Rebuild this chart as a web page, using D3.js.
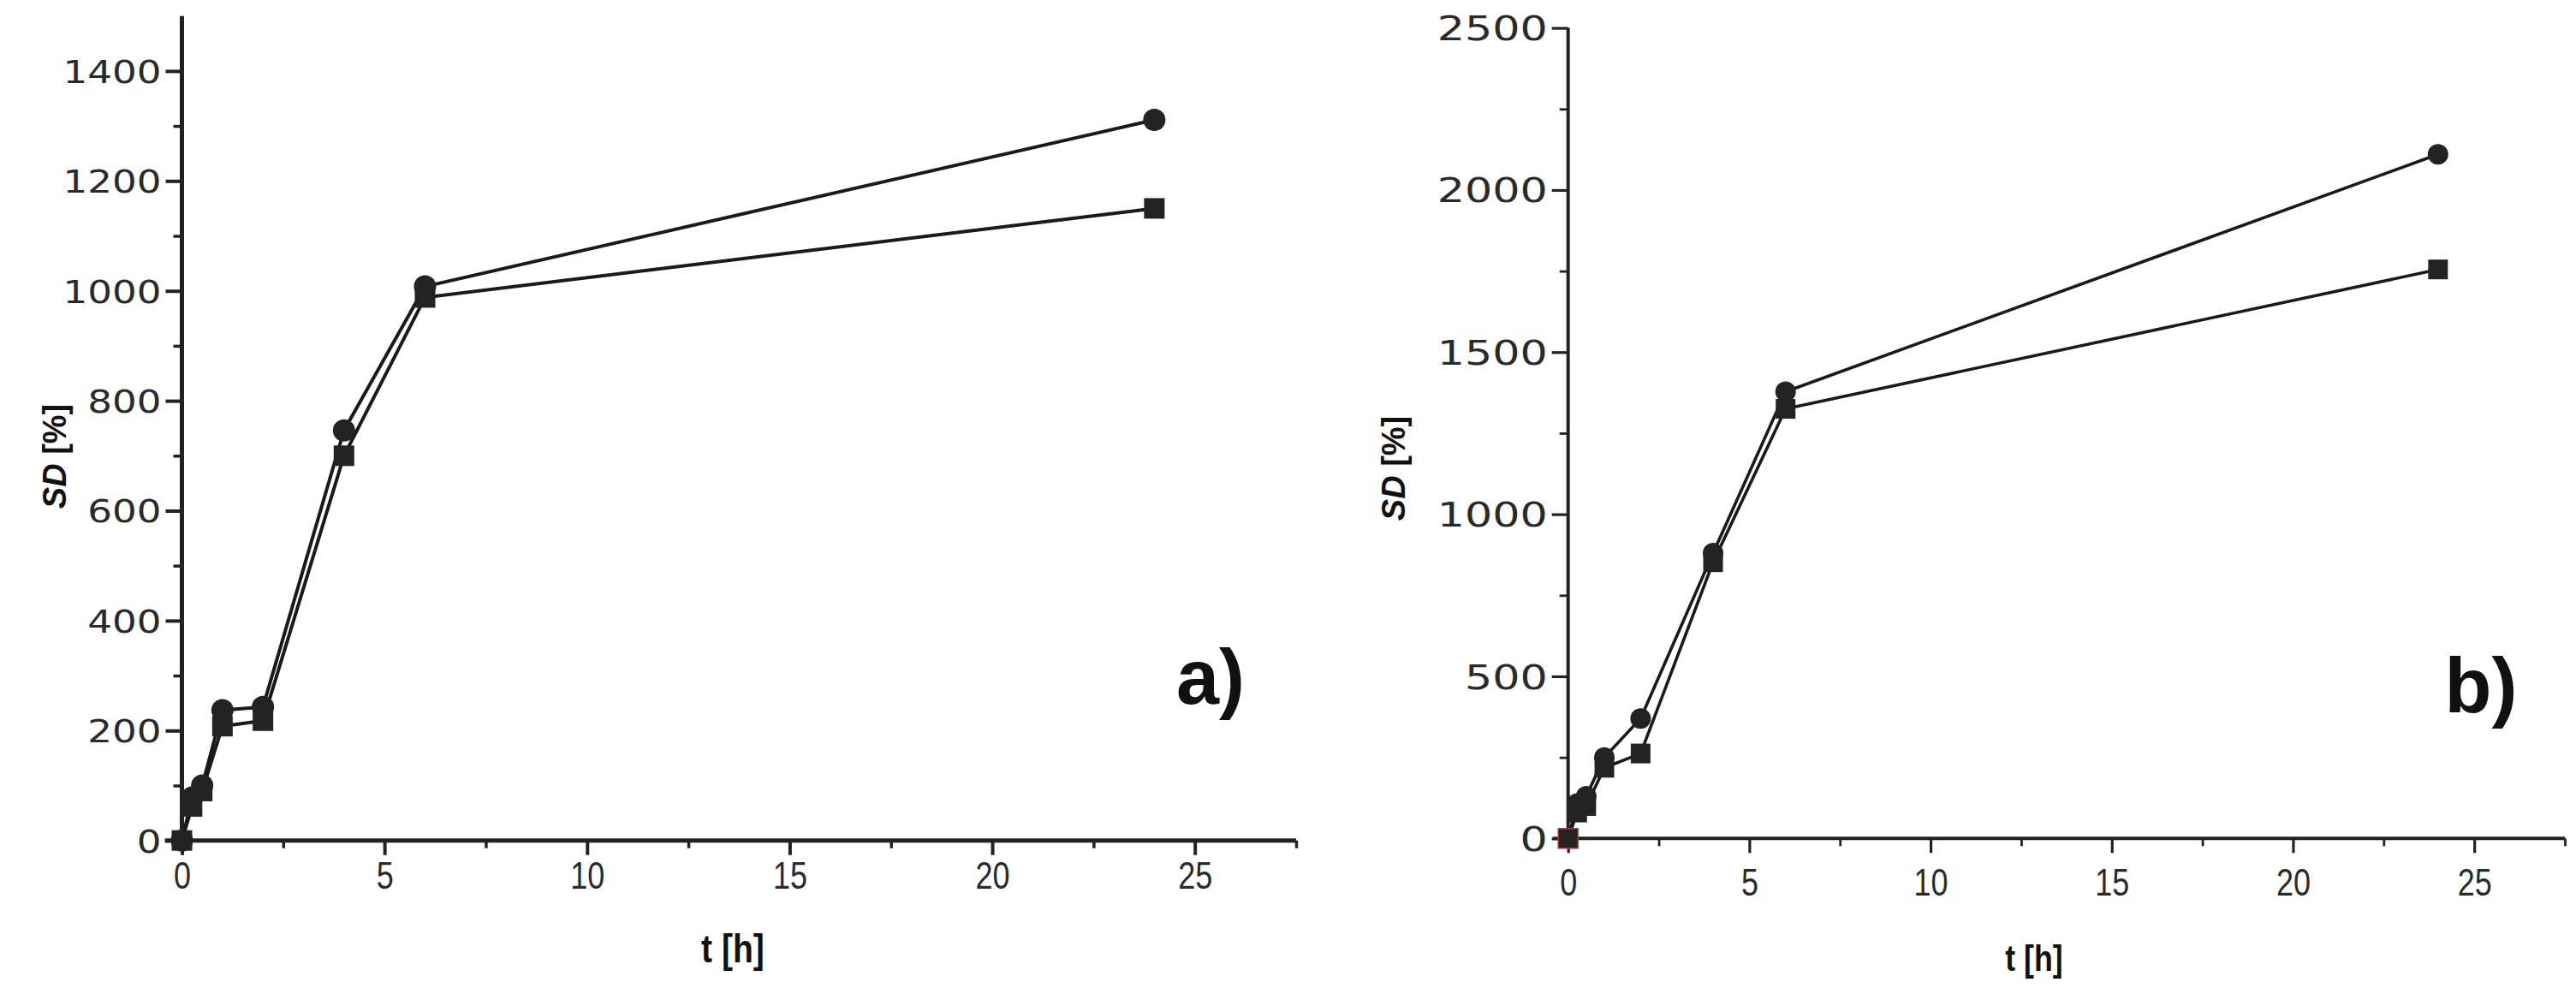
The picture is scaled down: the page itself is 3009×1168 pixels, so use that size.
<!DOCTYPE html>
<html>
<head>
<meta charset="utf-8">
<script src="https://cdn.jsdelivr.net/npm/d3@7"></script>
<style>
  html, body { margin: 0; padding: 0; background: #fff; }
  svg { display: block; }
</style>
</head>
<body>
<script>
// sampling times (h)
const times = [0, 0.25, 0.5, 1, 2, 4, 6, 24];

// panel a) swelling degree SD [%]
const circleA = [0, 78, 100, 237, 243, 746, 1008, 1311];
const squareA = [0, 62, 90, 208, 218, 700, 988, 1150];

// panel b)
const circleB = [0, 108, 130, 250, 370, 880, 1378, 2110];
const squareB = [0, 80, 100, 218, 262, 852, 1325, 1755];

const xMajor = [0, 5, 10, 15, 20, 25];
const xMinor = [2.5, 7.5, 12.5, 17.5, 22.5, 27.5];
const yMajorA = [0, 200, 400, 600, 800, 1000, 1200, 1400];
const yMinorA = [100, 300, 500, 700, 900, 1100, 1300];
const yMajorB = [0, 500, 1000, 1500, 2000, 2500];
const yMinorB = [250, 750, 1250, 1750, 2250];

const W = 3009, H = 1168;
const ink = "#222";

const svg = d3.select("body").append("svg")
  .attr("width", W).attr("height", H)
  .attr("viewBox", [0, 0, W, H]);

const panels = [
  {
    circle: circleA, square: squareA,
    x: d3.scaleLinear().domain([0, 27.5]).range([212.5, 1514]),
    y: d3.scaleLinear().domain([0, 1500]).range([981.7, 18.7]),
    yMajor: yMajorA, yMinor: yMinorA, yTop: 1500,
    axisW: 5, lineW: 4, r: 13, sq: 24, ySize: 37, yScale: 1.22,
    label: "a)", labelX: 1414, labelY: 822,
    yTitleX: 64, yTitleY: 533, xTitleX: 856, xTitleY: 1124,
    xLabelY: 1038, xTitleSize: 46
  },
  {
    circle: circleB, square: squareB,
    x: d3.scaleLinear().domain([0, 27.5]).range([1831.7, 2996]),
    y: d3.scaleLinear().domain([0, 2500]).range([979.3, 32.6]),
    yMajor: yMajorB, yMinor: yMinorB, yTop: 2500,
    axisW: 4, lineW: 3.6, r: 12, sq: 23, ySize: 39, yScale: 1.3,
    label: "b)", labelX: 2898, labelY: 832,
    yTitleX: 1628, yTitleY: 547, xTitleX: 2376, xTitleY: 1134,
    xLabelY: 1046, xTitleSize: 42
  }
];

panels.forEach((p, pi) => {
  const g = svg.append("g");
  const x0 = p.x(0), y0 = p.y(0);

  // y axis: major ticks + labels
  const gy = g.append("g").attr("transform", `translate(${x0},0)`)
    .call(d3.axisLeft(p.y).tickValues(p.yMajor).tickSize(19).tickPadding(0).tickFormat(d3.format("d")));
  gy.select(".domain").remove();
  gy.selectAll(".tick line").attr("stroke", ink).attr("stroke-width", p.axisW * 0.8);
  gy.selectAll(".tick text")
    .attr("x", 0).attr("dy", "0.36em")
    .attr("transform", `translate(-24,0) scale(${p.yScale},1)`)
    .attr("fill", "#2a2a2a")
    .style("font-family", "DejaVu Sans, sans-serif")
    .style("font-size", `${p.ySize}px`);

  const gyMinor = g.append("g").attr("transform", `translate(${x0},0)`)
    .call(d3.axisLeft(p.y).tickValues(p.yMinor).tickSize(10).tickFormat(""));
  gyMinor.select(".domain").remove();
  gyMinor.selectAll(".tick line").attr("stroke", ink).attr("stroke-width", p.axisW * 0.7);

  // x axis: major ticks + labels
  const gx = g.append("g").attr("transform", `translate(0,${y0})`)
    .call(d3.axisBottom(p.x).tickValues(xMajor).tickSize(17).tickPadding(0).tickFormat(d3.format("d")));
  gx.select(".domain").remove();
  gx.selectAll(".tick line").attr("stroke", ink).attr("stroke-width", p.axisW * 0.8);
  gx.selectAll(".tick text")
    .attr("y", 0).attr("dy", 0)
    .attr("transform", `translate(0,${p.xLabelY - y0}) scale(0.8,1)`)
    .attr("fill", "#2a2a2a")
    .style("font-family", "Liberation Sans, Arial, sans-serif")
    .style("font-size", "45px");

  const gxMinor = g.append("g").attr("transform", `translate(0,${y0})`)
    .call(d3.axisBottom(p.x).tickValues(xMinor).tickSize(9).tickFormat(""));
  gxMinor.select(".domain").remove();
  gxMinor.selectAll(".tick line").attr("stroke", ink).attr("stroke-width", p.axisW * 0.7);

  // axis lines
  g.append("line")
    .attr("x1", p.x(-0.42)).attr("x2", p.x(27.5))
    .attr("y1", y0).attr("y2", y0)
    .attr("stroke", ink).attr("stroke-width", p.axisW);
  g.append("line")
    .attr("x1", x0).attr("x2", x0)
    .attr("y1", p.y(p.yTop)).attr("y2", y0 + 2)
    .attr("stroke", ink).attr("stroke-width", p.axisW);

  // series
  const line = d3.line().x((d, i) => p.x(times[i])).y(d => p.y(d));
  [p.circle, p.square].forEach(vals => {
    g.append("path")
      .attr("d", line(vals))
      .attr("fill", "none")
      .attr("stroke", "#1a1a1a")
      .attr("stroke-width", p.lineW)
      .attr("stroke-linejoin", "round");
  });

  g.selectAll(".pt-c").data(p.circle).join("circle")
    .attr("cx", (d, i) => p.x(times[i]))
    .attr("cy", d => p.y(d))
    .attr("r", p.r)
    .attr("fill", "#232323");

  g.selectAll(".pt-s").data(p.square).join("rect")
    .attr("x", (d, i) => p.x(times[i]) - p.sq / 2)
    .attr("y", d => p.y(d) - p.sq / 2)
    .attr("width", p.sq).attr("height", p.sq)
    .attr("fill", "#232323")
    .attr("stroke", (d, i) => (pi === 1 && i === 0) ? "#b03a2e" : "none")
    .attr("stroke-width", 1.5);

  // titles
  const yt = g.append("text")
    .attr("transform", `translate(${p.yTitleX},${p.yTitleY}) rotate(-90)`)
    .attr("text-anchor", "middle")
    .attr("dy", "0.35em")
    .attr("fill", "#111")
    .style("font-family", "Liberation Sans, Arial, sans-serif")
    .style("font-weight", "bold")
    .style("font-size", "38px");
  yt.append("tspan").style("font-style", "italic").text("SD");
  yt.append("tspan").text(" [%]");

  g.append("text")
    .attr("transform", `translate(${p.xTitleX},${p.xTitleY}) scale(0.85,1)`)
    .attr("text-anchor", "middle")
    .attr("fill", "#111")
    .style("font-family", "Liberation Sans, Arial, sans-serif")
    .style("font-weight", "bold")
    .style("font-size", `${p.xTitleSize}px`)
    .text("t [h]");

  g.append("text")
    .attr("x", p.labelX).attr("y", p.labelY)
    .attr("text-anchor", "middle")
    .attr("fill", "#111")
    .style("font-family", "Liberation Sans, Arial, sans-serif")
    .style("font-weight", "bold")
    .style("font-size", "90px")
    .text(p.label);
});
</script>
</body>
</html>
